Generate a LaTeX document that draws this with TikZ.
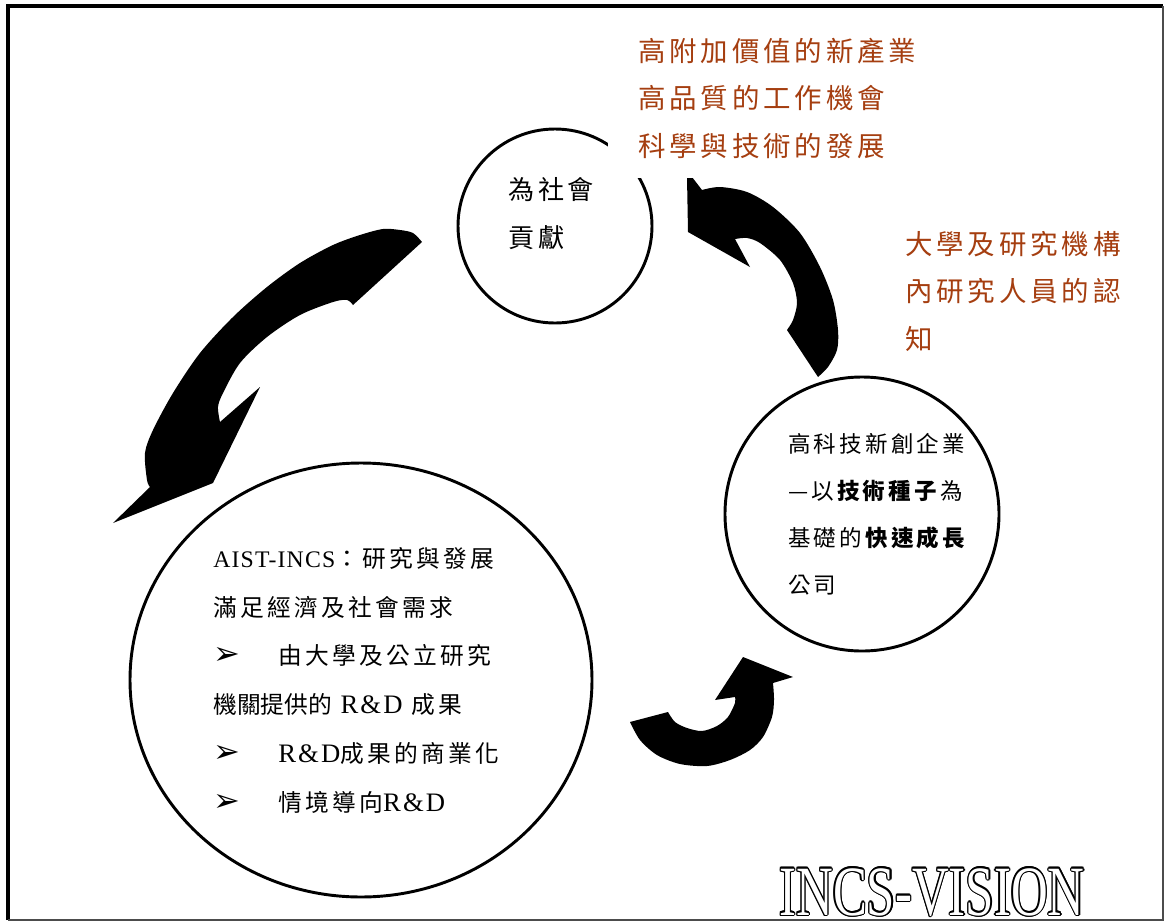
\documentclass[tikz,border=0pt]{standalone}
\usepackage{fontspec}
\usetikzlibrary{shapes.geometric}
\setmainfont{Liberation Serif}[LetterSpace=5]
\newfontfamily\cjk{Noto Sans CJK TC}[LetterSpace=14]
\newfontfamily\cjktight{Noto Sans CJK TC}
\newfontfamily\symb{DejaVu Sans}
\newfontfamily\rdfont{Liberation Serif}[LetterSpace=8]
\newfontfamily\titlefont{Liberation Serif}
\definecolor{brique}{RGB}{165,62,16}
\newcommand{\puce}{\makebox[48.75pt][l]{\symb\fontsize{24pt}{36.6pt}\selectfont ➢}}
\newcommand{\RandD}{{\rdfont\fontsize{20pt}{36.6pt}\selectfont R\&D}}

\begin{document}
\begin{tikzpicture}[x=0.75pt,y=-0.75pt,
  cercle/.style={circle, draw, line width=2.2pt, inner sep=0pt},
  texte/.style={align=left, anchor=north west, inner sep=0pt},
  effet/.style={texte, text=brique, font=\cjk\fontsize{20.6pt}{35.6pt}\selectfont},
  titre/.style={anchor=base, inner sep=0pt, font=\titlefont\fontsize{53pt}{60pt}\selectfont}]
  \useasboundingbox (0,0) rectangle (1165,922);

  % cadre
  \draw[line width=2.5pt] (8,920) -- (8,6) -- (1163,6);
  \draw[line width=0.8pt, black!70] (8,920) -- (1163,920) -- (1163,6);

  \node[cercle, minimum size=145.5pt] (societe) at (555,226) {};
  \node[cercle, ellipse, minimum width=346.5pt, minimum height=325.5pt] (aist) at (361,680) {};
  \node[cercle, minimum size=205.5pt] (startup) at (862,514) {};

  % fleche gauche
  \fill plot[smooth] coordinates {(422,242) (413,233) (400,230) (383,229) (360,235) (333,245) (300,263) (267,287) (233,317) (200,353) (173,393) (153,430) (145,453) (147,480) (150,487)}
    -- (113,523) -- (213,483) -- (260,387) -- (220,422)
    -- plot[smooth] coordinates {(220,422) (218,407) (223,393) (240,363) (267,337) (300,315) (333,302) (347,300) (353,305)} -- cycle;

  % fleche droite haut
  \fill (687,177) -- (692,177) -- (702,190)
    -- plot[smooth] coordinates {(702,190) (720,187) (747,192) (773,207) (800,233) (820,267) (833,300) (838,330) (837,350) (828,367) (818,377)}
    -- (787,330)
    -- plot[smooth] coordinates {(787,330) (793,320) (797,303) (793,283) (780,260) (760,243) (747,238) (735,239)}
    -- (750,267) -- (688,232) -- cycle;

  % fleche bas
  \fill (630,722) -- (668,712)
    -- plot[smooth] coordinates {(668,712) (675,722) (687,728) (702,731) (717,726) (728,717) (735,703) (735,697)}
    -- (715,700) -- (743,657) -- (793,677) -- (773,683)
    -- plot[smooth] coordinates {(773,683) (774,700) (772,717) (763,737) (750,750) (730,760) (707,766) (680,764) (657,755) (640,740) (630,722)} -- cycle;

  \node[texte, font=\cjk\fontsize{19.6pt}{36pt}\selectfont] (societetxt) at (508,177) {為社會\\貢獻};
  \node[texte, font=\cjk\fontsize{16.9pt}{35.25pt}\selectfont] (startuptxt) at (788,433)
    {高科技新創企業\\—以\textbf{技術種子}為\\基礎的\textbf{快速成長}\\公司};
  \node[texte, font=\cjk\fontsize{17.8pt}{36.6pt}\selectfont] (aisttxt) at (213,547)
    {{\rmfamily AIST-INCS}：研究與發展\\滿足經濟及社會需求\\\puce 由大學及公立研究\\{\cjktight 機關提供的} \RandD{} 成果\\\puce\RandD{}成果的商業化\\\puce 情境導向\RandD};

  \node[effet, fill=white, inner xsep=22.5pt, inner ysep=14.7pt] (apports) at (608,18)
    {高附加價值的新產業\\高品質的工作機會\\科學與技術的發展};
  \node[effet] (chercheurs) at (905,231) {大學及研究機構\\內研究人員的認\\知};

  % titre en relief
  \foreach \a in {0,30,...,330}
    \node[titre, shift={(\a:0.9pt)}] (titre\a) at (932,915) {\scalebox{0.72}[1]{INCS-VISION}};
  \node[titre, text=white] (titre) at (932,915) {\scalebox{0.72}[1]{INCS-VISION}};
\end{tikzpicture}
\end{document}
